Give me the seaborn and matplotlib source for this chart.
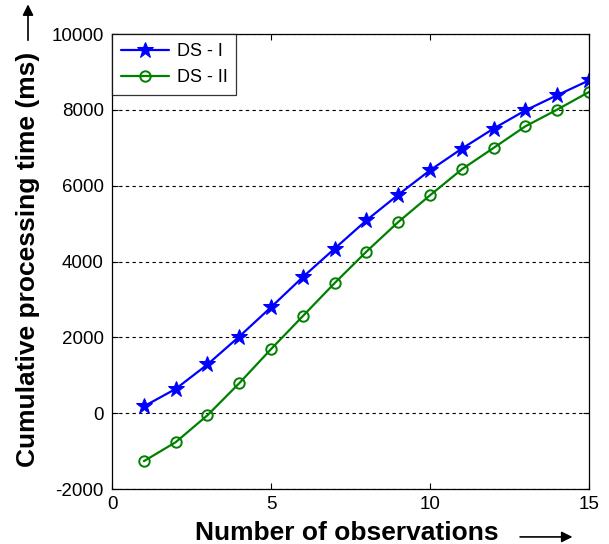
import matplotlib
matplotlib.use("Agg")
import matplotlib.pyplot as plt
import seaborn as sns
import pandas as pd

observations = list(range(1, 16))
ds1 = [180, 640, 1285, 2020, 2795, 3590, 4340, 5085, 5760, 6405, 6975, 7505, 7985, 8385, 8775]
ds2 = [-1265, -765, -55, 790, 1690, 2560, 3430, 4260, 5040, 5745, 6430, 6995, 7565, 8005, 8470]
series_names = ["DS - I", "DS - II"]
x_ticks = [0, 5, 10, 15]
y_ticks = [-2000, 0, 2000, 4000, 6000, 8000, 10000]

sns.set_style("white")
plt.rcParams["font.family"] = ["Liberation Sans", "DejaVu Sans"]
plt.rcParams["axes.unicode_minus"] = False
plt.rcParams["text.color"] = "black"

fig = plt.figure(figsize=(6.09, 5.44), dpi=100)
ax = fig.add_axes([0.184, 0.101, 0.783, 0.8365])

df1 = pd.DataFrame({"x": observations, "y": ds1})
df2 = pd.DataFrame({"x": observations, "y": ds2})
sns.lineplot(data=df1, x="x", y="y", ax=ax, color="#0000ff", marker="*", markersize=12,
             markeredgecolor="#0000ff", markerfacecolor="#0000ff", linewidth=1.6, label=series_names[0])
sns.lineplot(data=df2, x="x", y="y", ax=ax, color="#008000", marker="o", markersize=7.5,
             markeredgecolor="#008000", markerfacecolor="none", markeredgewidth=1.4,
             linewidth=1.6, label=series_names[1])

ax.set_xlim(0, 15)
ax.set_ylim(-2000, 10000)
ax.set_xticks(x_ticks)
ax.set_yticks(y_ticks)
ax.tick_params(axis="both", labelsize=13.5, direction="in", length=4, top=True, right=True,
               bottom=True, left=True, width=0.8, colors="black", labelcolor="black")
ax.tick_params(axis="y", pad=6)
ax.tick_params(axis="x", pad=5)
for s in ax.spines.values():
    s.set_color("black")
    s.set_linewidth(0.9)
ax.yaxis.grid(True, linestyle=(0, (3, 3)), color="black", linewidth=0.8)
ax.xaxis.grid(False)

ax.set_xlabel("")
ax.set_ylabel("")
fig.text(0.570, 0.020, "Number of observations", ha="center", va="center",
         fontsize=19, fontweight="bold", color="black")
fig.text(0.046, 0.524, "Cumulative processing time (ms)", ha="center", va="center",
         rotation=90, fontsize=19, fontweight="bold", color="black")
fig.patches.append(matplotlib.patches.FancyArrowPatch(
    (0.854, 0.013), (0.940, 0.013), transform=fig.transFigure, arrowstyle="-|>",
    mutation_scale=16, color="black", linewidth=1.2, shrinkA=0, shrinkB=0))
fig.patches.append(matplotlib.patches.FancyArrowPatch(
    (0.046, 0.926), (0.046, 0.992), transform=fig.transFigure, arrowstyle="-|>",
    mutation_scale=16, color="black", linewidth=1.2, shrinkA=0, shrinkB=0))

leg = ax.legend(loc="upper left", fontsize=13, frameon=True, fancybox=False,
                borderaxespad=0, handlelength=2.67, handletextpad=0.4,
                borderpad=0.5, labelspacing=0.5)
leg.get_frame().set_edgecolor("black")
leg.get_frame().set_linewidth(0.9)

fig.savefig("out.png", dpi=100, facecolor="white")
